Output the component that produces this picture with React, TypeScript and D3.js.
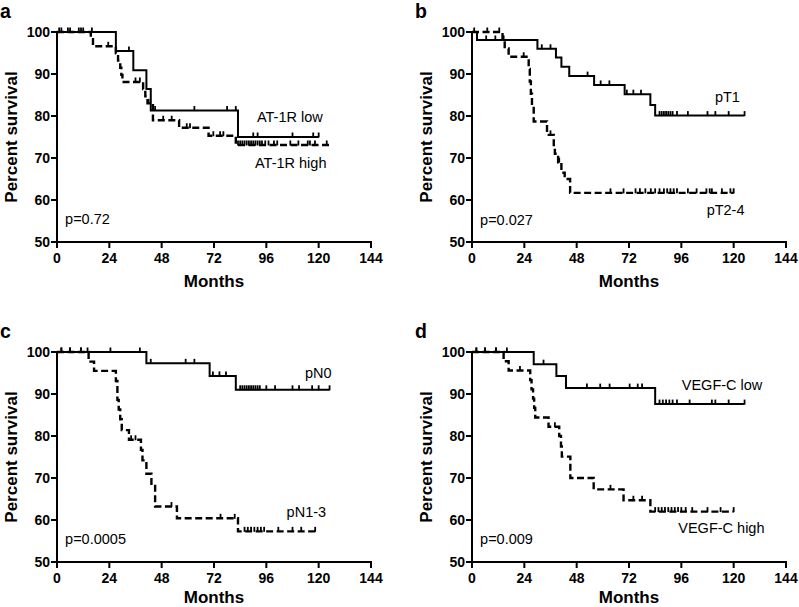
import React from "react";
import * as d3 from "d3";

const MONTH_TICKS = [0, 24, 48, 72, 96, 120, 144];
const PERCENT_TICKS = [50, 60, 70, 80, 90, 100];

// Panel a
const aLowTimes = [0, 27, 35, 41, 43, 83];
const aLowSurv = [100, 95.5, 90.9, 86.4, 81.3, 75.0];
const aLowEnd = 120;
const aLowCensor = [1, 6, 11, 16, 33, 45, 63, 78, 82, 90, 92, 108, 117.5, 120];
const aHighTimes = [0, 15.5, 16.5, 27, 28, 29, 29.5, 30, 39.5, 40.5, 41.5, 44, 56, 69.5, 82];
const aHighSurv = [100, 98.3, 96.6, 94.9, 93.2, 91.5, 89.8, 88.1, 86.4, 84.7, 83.0, 79.0, 77.2, 75.3, 73.1];
const aHighEnd = 125;
const aHighCensor = [2, 5, 10, 12, 23.5, 36, 38, 42, 48.7, 52.6, 59.5, 61, 71.7, 74.8, 76.3, 83, 84, 85, 86, 87, 88, 89, 90, 91, 92, 93, 94, 95.5, 97, 99.5, 101, 107, 110.7, 115, 116, 118.3, 123.7];

// Panel b
const bT1Times = [0, 2.3, 30, 38.5, 41, 44.6, 56, 70, 81.8, 84];
const bT1Surv = [100, 98.1, 96.0, 93.9, 91.7, 89.5, 87.4, 85.2, 82.6, 80.1];
const bT1End = 125;
const bT1Censor = [6.5, 10.7, 14.5, 32, 36, 53, 59, 63, 71, 74, 77.5, 86, 87, 88, 89, 90, 91, 92, 94, 99, 108, 111.6, 117.7, 125];
const bT24Times = [0, 14, 15, 16.8, 26, 26.5, 27, 27.5, 28.3, 34.4, 37.5, 38, 39.5, 41, 42.5, 45];
const bT24Surv = [100, 98.0, 96.1, 94.1, 91.2, 88.2, 85.3, 82.4, 78.7, 75.5, 72.5, 71.0, 69.0, 66.5, 65.0, 61.7];
const bT24End = 120;
const bT24Censor = [1, 7, 12.5, 23.7, 36, 40, 63.5, 69.5, 75, 77, 79.5, 82, 84, 86, 88, 89.5, 91, 92.5, 94, 99, 103, 107.5, 109, 110, 114.6, 118.5, 120];

// Panel c
const cN0Times = [0, 41, 70, 82];
const cN0Surv = [100, 97.3, 94.3, 91.0];
const cN0End = 125;
const cN0Censor = [2, 6, 11, 14, 24.5, 38, 43, 59, 63, 71.5, 74.5, 77.5, 84, 85, 86, 87, 88, 89, 90, 91, 92, 93, 96, 100, 108, 111, 117, 120, 125];
const cN13Times = [0, 14.5, 17, 27, 27.7, 28.3, 29, 29.7, 33, 38.5, 39.2, 41, 43.3, 45, 55, 83];
const cN13Surv = [100, 97.7, 95.5, 93.1, 88.6, 86.3, 84.0, 81.4, 79.1, 76.7, 74.2, 71.0, 68.6, 63.2, 60.4, 57.3];
const cN13End = 118.4;
const cN13Censor = [2, 6, 11, 34, 36, 52.5, 75, 81.5, 86, 87.5, 89, 90.5, 92, 93.5, 95, 101.5, 108, 112, 118.4];

// Panel d
const dLowTimes = [0, 28.3, 38.7, 43.1, 84];
const dLowSurv = [100, 97.1, 94.3, 91.4, 87.6];
const dLowEnd = 125;
const dLowCensor = [2, 6, 11, 16, 32.8, 52.7, 58.8, 63.1, 72.3, 76, 78, 86, 87.5, 89, 90.5, 92, 94, 99.8, 110, 111.6, 117.7, 125];
const dHighTimes = [0, 14.5, 16.8, 26.7, 27.3, 28, 28.5, 29, 35.1, 40, 40.8, 41.2, 45.1, 55.8, 69.5, 81.8];
const dHighSurv = [100, 97.8, 95.6, 93.3, 91.1, 88.9, 86.7, 84.4, 82.2, 80.0, 77.5, 75.1, 70.0, 67.3, 64.7, 62.0];
const dHighEnd = 120;
const dHighCensor = [2, 6, 11, 22, 38, 63.5, 74, 78, 84, 85.5, 87, 88.5, 90, 91.5, 93, 94.5, 96, 98, 101, 108, 114, 120];

type Series = { times: number[]; surv: number[]; end: number; censor: number[]; dashed: boolean };
type Label = { text: string; m: number; p: number };
type PanelDef = { letter: string; left: number; top: number; titleGap: number; series: Series[]; labels: Label[] };

const PANELS: PanelDef[] = [
  {
    letter: "a", left: 57, top: 32, titleGap: 45,
    series: [
      { times: aLowTimes, surv: aLowSurv, end: aLowEnd, censor: aLowCensor, dashed: false },
      { times: aHighTimes, surv: aHighSurv, end: aHighEnd, censor: aHighCensor, dashed: true },
    ],
    labels: [
      { text: "AT-1R low", m: 91.7, p: 78.6 },
      { text: "AT-1R high", m: 90.8, p: 67.6 },
      { text: "p=0.72", m: 3.7, p: 54.3 },
    ],
  },
  {
    letter: "b", left: 472, top: 32, titleGap: 45,
    series: [
      { times: bT1Times, surv: bT1Surv, end: bT1End, censor: bT1Censor, dashed: false },
      { times: bT24Times, surv: bT24Surv, end: bT24End, censor: bT24Censor, dashed: true },
    ],
    labels: [
      { text: "pT1", m: 111.4, p: 83.4 },
      { text: "pT2-4", m: 107.6, p: 56.4 },
      { text: "p=0.027", m: 3.7, p: 54.0 },
    ],
  },
  {
    letter: "c", left: 57, top: 352, titleGap: 40.5,
    series: [
      { times: cN0Times, surv: cN0Surv, end: cN0End, censor: cN0Censor, dashed: false },
      { times: cN13Times, surv: cN13Surv, end: cN13End, censor: cN13Censor, dashed: true },
    ],
    labels: [
      { text: "pN0", m: 113.7, p: 93.8 },
      { text: "pN1-3", m: 105.3, p: 60.6 },
      { text: "p=0.0005", m: 3.7, p: 54.3 },
    ],
  },
  {
    letter: "d", left: 472, top: 352, titleGap: 40.5,
    series: [
      { times: dLowTimes, surv: dLowSurv, end: dLowEnd, censor: dLowCensor, dashed: false },
      { times: dHighTimes, surv: dHighSurv, end: dHighEnd, censor: dHighCensor, dashed: true },
    ],
    labels: [
      { text: "VEGF-C low", m: 96.2, p: 90.9 },
      { text: "VEGF-C high", m: 94.6, p: 57.0 },
      { text: "p=0.009", m: 3.7, p: 54.3 },
    ],
  },
];

const W = 314;
const H = 210;
const FONT = "'Liberation Sans', Arial, Helvetica, sans-serif";

function survAt(s: Series, t: number) {
  let v = s.surv[0];
  for (let i = 0; i < s.times.length; i++) {
    if (s.times[i] <= t) v = s.surv[i];
  }
  return v;
}

function Panel({ def }: { def: PanelDef }) {
  const x = d3.scaleLinear().domain([0, 144]).range([0, W]);
  const y = d3.scaleLinear().domain([50, 100]).range([H, 0]);
  const line = d3
    .line<[number, number]>()
    .x((d) => x(d[0]))
    .y((d) => y(d[1]))
    .curve(d3.curveStepAfter);

  return (
    <g transform={`translate(${def.left},${def.top})`} fontFamily={FONT}>
      <text x={-57} y={-14.3} fontSize={19.5} fontWeight="bold">{def.letter}</text>
      {def.series.map((s, i) => {
        const pts: [number, number][] = s.times.map((t, k) => [t, s.surv[k]] as [number, number]);
        pts.push([s.end, s.surv[s.surv.length - 1]]);
        return (
          <g key={i}>
            <path
              d={line(pts) || ""}
              fill="none"
              stroke="#000"
              strokeWidth={s.dashed ? 2.4 : 2}
              strokeDasharray={s.dashed ? "7 3.5" : undefined}
            />
            {s.censor.map((c, k) => {
              const v = survAt(s, c);
              return (
                <line key={k} x1={x(c)} x2={x(c)} y1={y(v) - 4.5} y2={y(v) + 0.5} stroke="#000" strokeWidth={1.8} />
              );
            })}
          </g>
        );
      })}
      <line x1={0} x2={0} y1={0} y2={H + 1} stroke="#000" strokeWidth={2} />
      <line x1={-1} x2={W + 1} y1={H} y2={H} stroke="#000" strokeWidth={2} />
      {PERCENT_TICKS.map((p) => (
        <g key={p}>
          <line x1={-6} x2={0} y1={y(p)} y2={y(p)} stroke="#000" strokeWidth={2} />
          <text x={-7} y={y(p)} dy="0.36em" textAnchor="end" fontSize={14} fontWeight="bold">{p}</text>
        </g>
      ))}
      {MONTH_TICKS.map((m) => (
        <g key={m}>
          <line x1={x(m)} x2={x(m)} y1={H} y2={H + 6} stroke="#000" strokeWidth={2} />
          <text x={x(m)} y={H + 21} textAnchor="middle" fontSize={14} fontWeight="bold">{m}</text>
        </g>
      ))}
      <text x={W / 2} y={H + def.titleGap} textAnchor="middle" fontSize={17} fontWeight="bold">Months</text>
      <text
        transform={`translate(${-40},${H / 2}) rotate(-90)`}
        textAnchor="middle"
        fontSize={17}
        fontWeight="bold"
      >
        Percent survival
      </text>
      {def.labels.map((l, i) => (
        <text key={i} x={x(l.m)} y={y(l.p)} fontSize={14.5}>{l.text}</text>
      ))}
    </g>
  );
}

export default function App() {
  return (
    <svg
      width={799}
      height={607}
      style={{ position: "absolute", left: 0, top: 0, background: "#fff" }}
    >
      <rect width={799} height={607} fill="#fff" />
      {PANELS.map((p) => (
        <Panel key={p.letter} def={p} />
      ))}
    </svg>
  );
}
